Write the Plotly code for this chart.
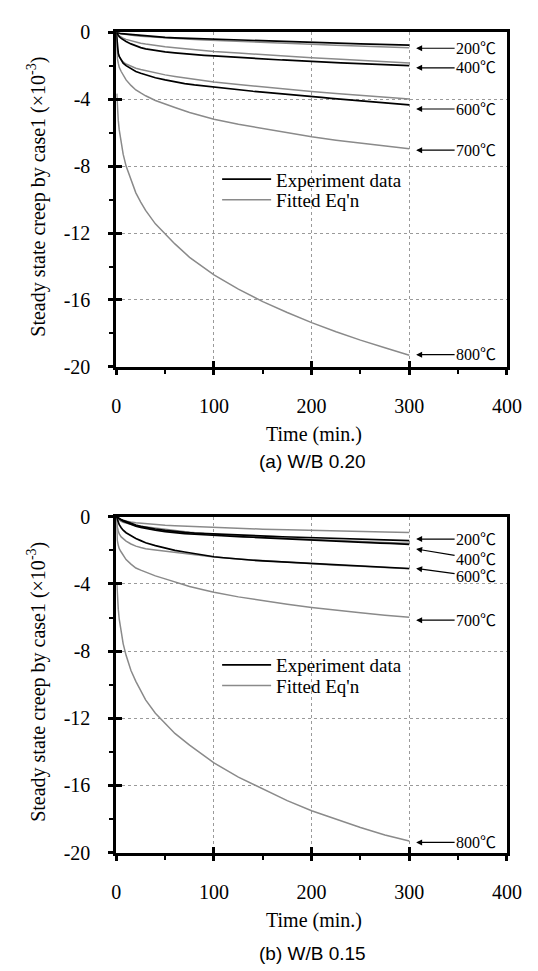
import plotly.graph_objects as go

# ---------------- data ----------------
T_EXP = [0, 1, 2, 3, 5, 7, 10, 15, 20, 25, 30, 40, 50, 60, 70, 80, 90, 100, 110, 120,
         130, 140, 150, 160, 170, 180, 190, 200, 210, 220, 230, 240, 250, 260, 270, 280, 290, 300]
T_FIT = [0, 0.5, 1, 2, 3, 5, 7, 10, 15, 20, 25, 30, 40, 50, 60, 75, 90, 100, 125, 150, 175, 200, 225, 250, 275, 300]

# (a) W/B 0.20
A_EXP_200 = [0, -0.03, -0.05, -0.06, -0.09, -0.10, -0.13, -0.17, -0.20, -0.22, -0.25, -0.28, -0.31, -0.34, -0.36, -0.38,
             -0.41, -0.44, -0.45, -0.48, -0.49, -0.52, -0.53, -0.55, -0.57, -0.58, -0.61, -0.62, -0.63, -0.66, -0.67,
             -0.68, -0.70, -0.71, -0.73, -0.74, -0.75, -0.77]
A_EXP_400 = [0, -0.12, -0.20, -0.27, -0.37, -0.45, -0.55, -0.70, -0.82, -0.92, -1.00, -1.10, -1.18, -1.24, -1.30, -1.35,
             -1.38, -1.42, -1.46, -1.50, -1.53, -1.57, -1.60, -1.63, -1.66, -1.68, -1.72, -1.75, -1.78, -1.80, -1.83,
             -1.86, -1.88, -1.90, -1.93, -1.95, -1.97, -2.00]
A_EXP_600 = [0, -0.90, -1.25, -1.45, -1.70, -1.85, -2.00, -2.20, -2.35, -2.45, -2.55, -2.72, -2.85, -2.97, -3.07, -3.15,
             -3.22, -3.28, -3.35, -3.42, -3.48, -3.53, -3.58, -3.64, -3.69, -3.74, -3.80, -3.85, -3.90, -3.95, -4.00,
             -4.05, -4.10, -4.15, -4.20, -4.25, -4.30, -4.34]
A_FIT_200 = [0, -0.02, -0.03, -0.05, -0.07, -0.10, -0.12, -0.15, -0.19, -0.22, -0.25, -0.27, -0.31, -0.35, -0.38,
             -0.42, -0.46, -0.48, -0.54, -0.60, -0.66, -0.72, -0.78, -0.83, -0.88, -0.93]
A_FIT_400 = [0, -0.07, -0.10, -0.17, -0.22, -0.30, -0.36, -0.43, -0.52, -0.60, -0.66, -0.71, -0.80, -0.87, -0.93,
             -1.02, -1.10, -1.15, -1.25, -1.35, -1.44, -1.52, -1.60, -1.68, -1.76, -1.84]
A_FIT_600 = [0, -0.70, -1.00, -1.30, -1.47, -1.65, -1.78, -1.90, -2.05, -2.15, -2.23, -2.30, -2.44, -2.55, -2.64,
             -2.78, -2.90, -2.97, -3.13, -3.28, -3.42, -3.55, -3.67, -3.78, -3.89, -3.99]
A_FIT_700 = [0, -1.20, -1.55, -1.85, -2.10, -2.35, -2.58, -2.85, -3.18, -3.45, -3.63, -3.80, -4.08, -4.30, -4.50,
             -4.80, -5.05, -5.20, -5.50, -5.75, -6.02, -6.25, -6.45, -6.62, -6.80, -6.97]
A_FIT_800 = [None, -3.67, -4.40, -5.27, -5.84, -6.70, -7.29, -8.00, -8.85, -9.60, -10.15, -10.65, -11.45, -12.05,
             -12.65, -13.45, -14.10, -14.50, -15.35, -16.10, -16.75, -17.35, -17.90, -18.40, -18.85, -19.30]

# (b) W/B 0.15
B_EXP_200 = [0, -0.04, -0.07, -0.10, -0.16, -0.21, -0.28, -0.40, -0.50, -0.57, -0.63, -0.73, -0.81, -0.88, -0.93, -0.97,
             -1.00, -1.02, -1.05, -1.08, -1.10, -1.12, -1.14, -1.17, -1.19, -1.21, -1.24, -1.26, -1.28, -1.30, -1.32,
             -1.34, -1.35, -1.37, -1.38, -1.40, -1.41, -1.42]
B_EXP_400 = [0, -0.05, -0.09, -0.13, -0.20, -0.26, -0.33, -0.45, -0.56, -0.63, -0.70, -0.80, -0.88, -0.95, -1.00, -1.04,
             -1.08, -1.11, -1.14, -1.17, -1.20, -1.22, -1.25, -1.28, -1.31, -1.33, -1.36, -1.38, -1.41, -1.44, -1.46,
             -1.49, -1.51, -1.54, -1.57, -1.59, -1.62, -1.65]
B_EXP_600 = [0, -0.20, -0.35, -0.47, -0.65, -0.80, -0.95, -1.15, -1.30, -1.42, -1.55, -1.72, -1.88, -2.00, -2.10, -2.20,
             -2.29, -2.38, -2.44, -2.50, -2.55, -2.59, -2.63, -2.66, -2.70, -2.73, -2.77, -2.80, -2.83, -2.86, -2.89,
             -2.92, -2.95, -2.98, -3.00, -3.03, -3.05, -3.08]
B_FIT_200 = [0, -0.07, -0.10, -0.13, -0.16, -0.20, -0.23, -0.27, -0.31, -0.35, -0.38, -0.40, -0.45, -0.50, -0.53,
             -0.57, -0.61, -0.63, -0.69, -0.74, -0.78, -0.82, -0.85, -0.88, -0.91, -0.93]
B_FIT_400 = [0, -0.08, -0.12, -0.18, -0.22, -0.28, -0.33, -0.38, -0.46, -0.52, -0.56, -0.60, -0.68, -0.75, -0.81,
             -0.92, -1.00, -1.05, -1.14, -1.22, -1.29, -1.36, -1.42, -1.48, -1.53, -1.58]
B_FIT_600 = [0, -0.45, -0.60, -0.85, -1.02, -1.20, -1.32, -1.45, -1.62, -1.75, -1.83, -1.90, -1.98, -2.05, -2.13,
             -2.25, -2.34, -2.40, -2.52, -2.62, -2.72, -2.80, -2.88, -2.95, -3.03, -3.10]
B_FIT_700 = [0, -1.10, -1.40, -1.70, -1.90, -2.10, -2.30, -2.55, -2.82, -3.05, -3.18, -3.30, -3.52, -3.70, -3.88,
             -4.15, -4.36, -4.50, -4.77, -5.00, -5.21, -5.40, -5.57, -5.72, -5.86, -5.99]
B_FIT_800 = [None, -3.90, -4.60, -5.50, -6.10, -6.90, -7.55, -8.25, -9.15, -9.80, -10.40, -10.90, -11.70, -12.30,
             -12.90, -13.60, -14.25, -14.66, -15.50, -16.20, -16.90, -17.50, -18.00, -18.50, -18.95, -19.30]

TEMP_LABELS = ["200℃", "400℃", "600℃", "700℃", "800℃"]
A_TIP_X = 307
A_TIP_Y = [-0.96, -2.13, -4.59, -7.05, -19.27]
B_TIP_Y = [-1.33, -1.92, -3.08, -6.16, -19.39]
A_TEXT_DY = [0, 0, 0, 0, 0]
B_TEXT_DY = [0, 10, 8, 0, 0]

X_TICKS = [0, 100, 200, 300, 400]
Y_TICKS = [0, -4, -8, -12, -16, -20]
CAPTIONS = ["(a) W/B 0.20", "(b) W/B 0.15"]
Y_TITLE = "Steady state creep by case1 (×10<sup>-3</sup>)"
X_TITLE = "Time (min.)"
LEGEND_NAMES = ["Experiment data", "Fitted Eq'n"]

# ---------------- layout geometry (pixels) ----------------
W, H = 538, 971
PX_L, PX_R = 107.3, 513
PANELS = [dict(top=13.5, bot=356, leg=[164, 185], cap=97),
          dict(top=509.3, bot=853, leg=[661, 682], cap=103)]
LEG_ITEM_W = 49

SERIF = "Liberation Serif, Noto Sans CJK JP, serif"
SANS = "Liberation Sans, Arial, sans-serif"
EXP_COLOR = "#000000"
FIT_COLOR = "#8a8a8a"


def py(p):
    return 1 - p / H


fig = go.Figure()

panel_data = [
    dict(exp=[A_EXP_200, A_EXP_400, A_EXP_600], fit=[A_FIT_200, A_FIT_400, A_FIT_600, A_FIT_700, A_FIT_800],
         tips=A_TIP_Y, dys=A_TEXT_DY),
    dict(exp=[B_EXP_200, B_EXP_400, B_EXP_600], fit=[B_FIT_200, B_FIT_400, B_FIT_600, B_FIT_700, B_FIT_800],
         tips=B_TIP_Y, dys=B_TEXT_DY),
]

annotations = []
for i, pdat in enumerate(panel_data):
    xa = "x" if i == 0 else "x2"
    ya = "y" if i == 0 else "y2"
    leg_exp = "legend" if i == 0 else "legend2"
    leg_fit = "legend3" if i == 0 else "legend4"
    for j, ys in enumerate(pdat["fit"]):
        fig.add_trace(go.Scatter(x=T_FIT, y=ys, mode="lines", xaxis=xa, yaxis=ya,
                                 line=dict(color=FIT_COLOR, width=1.5),
                                 name=LEGEND_NAMES[1], legend=leg_fit,
                                 showlegend=(j == 0), connectgaps=False))
    for j, ys in enumerate(pdat["exp"]):
        fig.add_trace(go.Scatter(x=T_EXP, y=ys, mode="lines", xaxis=xa, yaxis=ya,
                                 line=dict(color=EXP_COLOR, width=1.7),
                                 name=LEGEND_NAMES[0], legend=leg_exp,
                                 showlegend=(j == 0)))
    for lab, ty, dy in zip(TEMP_LABELS, pdat["tips"], pdat["dys"]):
        annotations.append(dict(x=A_TIP_X, y=ty, xref=xa, yref=ya, text=lab, showarrow=True,
                                ax=60, ay=dy, arrowhead=2, arrowsize=1, arrowwidth=1.2, arrowcolor="black",
                                font=dict(family=SERIF, size=16, color="black"), xanchor="center"))

# dummy traces for overlay axes (inside halves of the major ticks)
fig.add_trace(go.Scatter(x=[], y=[], xaxis="x3", yaxis="y3", showlegend=False, hoverinfo="skip"))
fig.add_trace(go.Scatter(x=[], y=[], xaxis="x4", yaxis="y4", showlegend=False, hoverinfo="skip"))

xdom = [PX_L / W, PX_R / W]
layout = dict(width=W, height=H, margin=dict(l=0, r=0, t=0, b=0),
              paper_bgcolor="white", plot_bgcolor="white", showlegend=True)

leg_common = dict(xanchor="left", yanchor="middle", bgcolor="rgba(0,0,0,0)", borderwidth=0,
                  itemwidth=LEG_ITEM_W, font=dict(family=SERIF, size=19, color="black"))

for i, pan in enumerate(PANELS):
    ydom = [py(pan["bot"]), py(pan["top"])]
    xk = "xaxis" if i == 0 else "xaxis2"
    yk = "yaxis" if i == 0 else "yaxis2"
    ya = "y" if i == 0 else "y2"
    xa = "x" if i == 0 else "x2"
    layout[xk] = dict(domain=xdom, anchor=ya, range=[0, 400], tickvals=X_TICKS, ticktext=[str(v) for v in X_TICKS],
                      showline=True, linewidth=3, linecolor="black", mirror=True,
                      ticks="outside", ticklen=5, tickwidth=3, tickcolor="black",
                      showgrid=True, gridcolor="#9a9a9a", gridwidth=1, griddash="dot",
                      zeroline=False, ticklabelstandoff=14,
                      minor=dict(ticks="outside", ticklen=4, tickwidth=2, tickcolor="black", dtick=50, tick0=0,
                                 showgrid=False),
                      tickfont=dict(family=SERIF, size=20, color="black"), fixedrange=True)
    layout[yk] = dict(domain=ydom, anchor=xa, range=[-20, 0], tickvals=Y_TICKS, ticktext=[str(v) for v in Y_TICKS],
                      showline=True, linewidth=3, linecolor="black", mirror=True,
                      ticks="outside", ticklen=5, tickwidth=3, tickcolor="black",
                      showgrid=True, gridcolor="#9a9a9a", gridwidth=1, griddash="dot",
                      zeroline=False, ticklabelstandoff=14,
                      minor=dict(ticks="outside", ticklen=4, tickwidth=2, tickcolor="black", dtick=2, tick0=0,
                                 showgrid=False),
                      tickfont=dict(family=SERIF, size=20, color="black"), fixedrange=True)
    ox = "xaxis3" if i == 0 else "xaxis4"
    oy = "yaxis3" if i == 0 else "yaxis4"
    layout[ox] = dict(domain=xdom, anchor=("y3" if i == 0 else "y4"), overlaying=xa, range=[0, 400],
                      tickvals=X_TICKS, ticks="inside", ticklen=6, tickwidth=3, tickcolor="black",
                      showticklabels=False, showgrid=False, showline=False, zeroline=False)
    layout[oy] = dict(domain=ydom, anchor=("x3" if i == 0 else "x4"), overlaying=ya, range=[-20, 0],
                      tickvals=Y_TICKS, ticks="inside", ticklen=6, tickwidth=3, tickcolor="black",
                      showticklabels=False, showgrid=False, showline=False, zeroline=False)

    cy = (pan["top"] + pan["bot"]) / 2 - 3
    annotations.append(dict(x=25 / W, y=py(cy), xref="paper", yref="paper", text=Y_TITLE, textangle=-90,
                            showarrow=False, font=dict(family=SERIF, size=20, color="black"),
                            xanchor="center", yanchor="middle"))
    annotations.append(dict(x=313 / W, y=py(pan["bot"] + 69), xref="paper", yref="paper", text=X_TITLE,
                            showarrow=False, font=dict(family=SERIF, size=20, color="black"),
                            xanchor="center", yanchor="middle"))
    annotations.append(dict(x=311 / W, y=py(pan["bot"] + pan["cap"]), xref="paper", yref="paper", text=CAPTIONS[i],
                            showarrow=False, font=dict(family=SANS, size=19, color="black"),
                            xanchor="center", yanchor="middle"))

    l_exp = "legend" if i == 0 else "legend2"
    l_fit = "legend3" if i == 0 else "legend4"
    lx = (271 - LEG_ITEM_W - 10) / W
    layout[l_exp] = dict(x=lx, y=py(pan["leg"][0]), **leg_common)
    layout[l_fit] = dict(x=lx, y=py(pan["leg"][1]), **leg_common)

layout["annotations"] = annotations
fig.update_layout(**layout)
fig.write_html("out.html")
